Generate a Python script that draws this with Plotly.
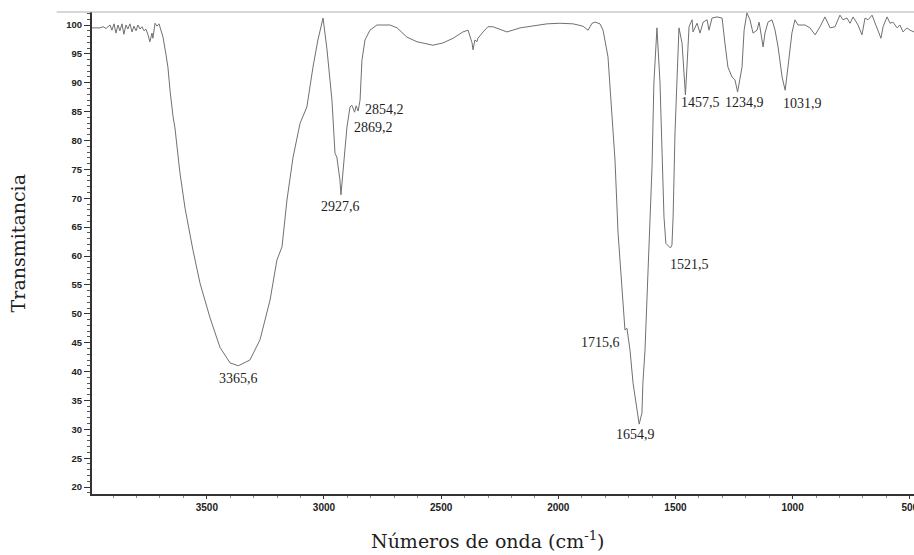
import plotly.graph_objects as go

# FTIR spectrum: wavenumber (cm-1) and transmittance (%)
wavenumber = [
    3990, 3977, 3965, 3956, 3943, 3930, 3922, 3913, 3905, 3896, 3888, 3879,
    3871, 3862, 3854, 3845, 3837, 3828, 3819, 3811, 3802, 3794, 3785, 3777,
    3768, 3760, 3751, 3743, 3734, 3730, 3721, 3713, 3704, 3696, 3687, 3674,
    3666, 3657, 3649, 3644, 3636, 3627, 3615, 3593, 3572, 3559, 3529, 3487,
    3444, 3401, 3365.6, 3316, 3273, 3230, 3201, 3179, 3158, 3132, 3102, 3073,
    3047, 3026, 3004, 2987, 2966, 2953, 2945, 2932, 2927.6, 2919, 2902, 2889,
    2881, 2869.2, 2863, 2854.2, 2846, 2838, 2825, 2804, 2774, 2718, 2688, 2646,
    2603, 2535, 2492, 2449, 2407, 2385, 2368, 2364, 2356, 2347, 2343, 2321,
    2300, 2279, 2219, 2163, 2108, 2048, 1993, 1937, 1895, 1873, 1856, 1843,
    1822, 1809, 1788, 1771, 1758, 1745, 1737, 1724, 1715.6, 1707, 1694, 1681,
    1664, 1654.9, 1643, 1639, 1630, 1622, 1613, 1600, 1592, 1579, 1566, 1558,
    1549, 1541, 1532, 1521.5, 1515, 1510, 1502, 1493, 1485, 1472, 1464, 1457.5,
    1451, 1442, 1429, 1425, 1408, 1395, 1382, 1365, 1357, 1344, 1323, 1301,
    1289, 1276, 1259, 1246, 1234.9, 1216, 1207, 1195, 1182, 1169, 1152, 1143,
    1126, 1118, 1105, 1088, 1075, 1062, 1045, 1031.9, 1020, 1003, 990, 977,
    947, 926, 904, 883, 862, 840, 819, 798, 785, 768, 755, 742,
    721, 704, 691, 678, 661, 648, 636, 623, 614, 597, 584, 572,
    554, 542, 529, 512, 499, 482,
]
transmittance = [
    99.5, 99.5, 99.4, 99.5, 99.7, 99.4, 99.7, 100.0, 99.1, 100.2, 98.6, 100.0,
    99.0, 100.2, 98.4, 100.0, 99.3, 100.2, 98.8, 99.8, 99.0, 100.0, 99.3, 99.7,
    99.0, 99.3, 98.3, 97.1, 98.6, 97.7, 100.3, 99.8, 100.2, 99.1, 97.9, 94.8,
    92.7, 88.7, 85.3, 84.1, 82.2, 78.4, 74.5, 68.3, 63.5, 61.0, 55.3, 49.4,
    44.2, 41.5, 41.0, 42.0, 45.5, 52.4, 59.3, 61.6, 69.7, 77.1, 83.0, 85.8,
    92.7, 97.4, 101.2, 95.7, 87.0, 77.8, 77.1, 73.2, 70.6, 74.4, 82.3, 85.8,
    86.1, 84.9, 86.0, 85.1, 87.0, 93.9, 97.4, 99.1, 100.0, 100.0, 99.5, 97.9,
    97.1, 96.5, 96.9, 97.7, 98.8, 99.1, 96.9, 95.7, 97.4, 97.1, 97.7, 98.8,
    99.7, 99.7, 98.8, 99.5, 99.8, 100.2, 100.3, 100.2, 99.8, 99.1, 100.3, 100.5,
    100.2, 99.1, 94.5, 85.3, 76.6, 64.0, 59.3, 51.5, 47.2, 47.5, 43.7, 38.0,
    32.8, 30.9, 32.8, 38.0, 43.7, 52.4, 61.0, 75.4, 90.0, 99.5, 90.0, 78.4,
    66.8, 62.2, 61.9, 61.4, 61.9, 66.8, 81.3, 92.7, 99.5, 96.9, 91.7, 87.9,
    92.7, 99.7, 100.9, 98.8, 100.3, 98.6, 100.5, 100.9, 99.1, 101.2, 101.4, 101.2,
    96.9, 92.7, 91.0, 90.5, 88.4, 92.7, 99.1, 102.1, 100.9, 98.6, 99.1, 100.5,
    96.2, 98.6, 100.5, 100.9, 99.1, 96.2, 91.0, 88.7, 92.7, 98.6, 100.9, 100.0,
    100.0, 99.5, 98.3, 99.7, 101.4, 99.5, 99.7, 101.7, 100.9, 101.2, 100.3, 101.4,
    100.0, 98.3, 101.2, 100.9, 101.7, 100.3, 99.1, 97.7, 99.7, 101.4, 100.3, 100.5,
    99.5, 100.0, 98.8, 99.5, 99.1, 98.8,
]

# Labelled absorption bands
peak_wavenumber = [3365.6, 2927.6, 2854.2, 2869.2, 1715.6, 1654.9, 1521.5, 1457.5, 1234.9, 1031.9]
peak_text = ["3365,6", "2927,6", "2854,2", "2869,2", "1715,6", "1654,9", "1521,5", "1457,5", "1234,9", "1031,9"]
# label placement: (xanchor, xshift, yshift) in pixels relative to the band minimum
peak_offsets = [
    ("center", 0, -13), ("center", 0, -12), ("left", 5, 2), ("left", -3, -15),
    ("right", -3, -13), ("center", -4, -10), ("left", -2, -17), ("left", -6, -8),
    ("center", 7, -10), ("left", -4, -13),
]

x_ticks = [3500, 3000, 2500, 2000, 1500, 1000, 500]
y_ticks = list(range(20, 101, 5))

lookup = dict(zip(wavenumber, transmittance))

fig = go.Figure()
fig.add_trace(go.Scatter(
    x=wavenumber, y=transmittance, mode="lines",
    line=dict(color="#707070", width=1), hoverinfo="x+y", showlegend=False,
))

label_font = dict(family="Liberation Serif, Times New Roman, serif", size=14, color="#1e1e1e")
for w, txt, (anchor, dx, dy) in zip(peak_wavenumber, peak_text, peak_offsets):
    fig.add_annotation(
        x=w, y=lookup[w], text=txt, showarrow=False, xanchor=anchor, yanchor="middle",
        xshift=dx, yshift=dy, font=label_font,
    )

title_font = dict(family="DejaVu Serif", size=19, color="#1e1e1e")
fig.add_annotation(
    text="Transmitancia", textangle=-90, xref="paper", yref="paper",
    x=-0.09, y=0.52, xanchor="center", yanchor="middle", showarrow=False, font=title_font,
)
fig.add_annotation(
    text="Números de onda (cm<sup>-1</sup>)", xref="paper", yref="paper",
    x=0.482, y=-0.095, xanchor="center", yanchor="middle", showarrow=False, font=title_font,
)

# thin frame line along the top
fig.add_shape(type="line", xref="paper", yref="paper", x0=-0.043, x1=1, y0=1, y1=1,
              line=dict(color="#b0b0b0", width=1))

tick_font = dict(family="Liberation Sans", size=10, color="#222222", weight="bold")
fig.update_xaxes(
    range=[3990, 482], tickmode="array", tickvals=x_ticks, ticktext=[str(v) for v in x_ticks],
    ticks="outside", ticklen=3, tickwidth=1, tickcolor="#333333",
    showline=True, linecolor="#333333", linewidth=2, showgrid=False, zeroline=False,
    tickfont=tick_font, ticklabeloverflow="allow", automargin=False,
    minor=dict(dtick=100, tick0=0, ticks="outside", ticklen=2, tickcolor="#888888", showgrid=False),
)
fig.update_yaxes(
    range=[18.8, 102.25], tickmode="array", tickvals=y_ticks, ticktext=[str(v) for v in y_ticks],
    ticks="outside", ticklen=6, tickwidth=1, tickcolor="#333333",
    showline=True, linecolor="#333333", linewidth=2, showgrid=False, zeroline=False,
    tickfont=dict(family="Liberation Sans", size=9.5, color="#222222", weight="bold"),
    automargin=False,
    minor=dict(dtick=1, tick0=0, ticks="outside", ticklen=3, tickcolor="#555555", showgrid=False),
)
fig.update_layout(
    width=914, height=555,
    margin=dict(l=92, r=0, t=12, b=61),
    paper_bgcolor="white", plot_bgcolor="white",
)

fig.write_html("out.html")
